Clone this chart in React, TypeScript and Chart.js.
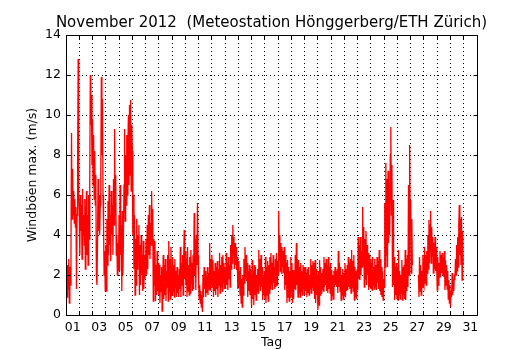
import React, { useEffect, useRef } from 'react';
import { Chart, registerables } from 'chart.js';

Chart.register(...registerables);

const chartTitle = 'November 2012  (Meteostation Hönggerberg/ETH Zürich)';
const yAxisTitle = 'Windböen max. (m/s)';
const xAxisTitle = 'Tag';
const dayTickLabels = ['01', '03', '05', '07', '09', '11', '13', '15', '17', '19', '21', '23', '25', '27', '29', '31'];
const yTickValues = [0, 2, 4, 6, 8, 10, 12, 14];
const samplesPerDay = 24;

// hourly wind gust maxima (m/s), one array per day
const nov01 = [0.7, 2.2, 0.9, 2.5, 1.3, 2.8, 0.6, 2.4, 1.5, 3.2, 9.1, 4.8, 7.3, 5.0, 6.2, 4.6, 5.8, 4.4, 5.4, 1.3, 5.0, 7.5, 12.8, 6.0];
const nov02 = [5.2, 3.0, 6.0, 4.2, 5.5, 2.8, 6.3, 4.0, 5.0, 3.5, 5.8, 2.3, 4.5, 6.2, 3.0, 5.0, 2.5, 6.0, 3.8, 6.5, 12.0, 9.5, 11.0, 7.5];
const nov03 = [9.8, 6.5, 9.0, 5.8, 8.2, 5.5, 7.0, 2.0, 1.5, 3.5, 6.8, 4.2, 6.0, 4.0, 5.5, 7.0, 11.9, 8.0, 10.8, 6.0, 4.5, 2.0, 3.2, 1.2];
const nov04 = [3.5, 1.2, 4.8, 2.5, 5.7, 3.0, 6.5, 3.5, 5.0, 2.7, 6.2, 4.0, 5.5, 3.0, 6.8, 4.5, 9.3, 5.0, 7.0, 3.0, 4.0, 2.0, 3.6, 2.2];
const nov05 = [5.0, 2.2, 6.5, 3.0, 4.5, 1.2, 5.2, 2.0, 4.0, 6.5, 9.3, 4.7, 8.0, 5.5, 9.0, 6.0, 8.5, 10.0, 6.5, 10.5, 7.0, 10.75, 6.2, 9.5];
const nov06 = [8.2, 4.0, 6.0, 2.3, 5.0, 1.0, 3.8, 1.5, 4.8, 2.3, 4.0, 2.8, 4.5, 1.0, 3.5, 1.5, 4.0, 2.0, 3.0, 1.2, 3.7, 1.3, 3.0, 1.8];
const nov07 = [2.5, 3.8, 2.0, 4.5, 2.3, 5.0, 3.0, 5.5, 2.8, 4.6, 3.5, 6.2, 4.0, 5.3, 0.7, 3.8, 1.5, 3.7, 0.7, 2.5, 1.0, 3.2, 1.2, 2.6];
const nov08 = [1.0, 2.5, 0.6, 2.0, 1.2, 2.4, 0.2, 1.5, 3.0, 0.8, 2.5, 1.0, 2.8, 0.7, 2.2, 1.4, 3.0, 0.7, 3.7, 1.2, 2.8, 0.8, 3.4, 1.5];
const nov09 = [1.0, 2.9, 1.2, 2.5, 0.9, 2.8, 1.4, 2.2, 0.9, 2.4, 1.1, 2.0, 0.9, 2.3, 1.3, 3.4, 0.9, 2.6, 1.5, 3.0, 1.0, 2.8, 4.25, 1.8];
const nov10 = [3.2, 1.5, 2.8, 0.9, 3.4, 1.2, 2.5, 1.0, 2.9, 1.1, 3.25, 1.6, 2.6, 1.2, 3.0, 1.3, 5.1, 2.0, 3.8, 1.25, 4.0, 2.5, 5.6, 3.0];
const nov11 = [1.75, 0.8, 1.5, 0.6, 1.2, 0.4, 1.0, 0.15, 2.0, 0.9, 2.4, 1.3, 2.2, 0.9, 2.0, 1.1, 2.4, 1.0, 2.1, 1.3, 3.6, 1.25, 2.8, 1.5];
const nov12 = [3.0, 1.4, 2.75, 0.9, 2.2, 1.2, 2.6, 1.0, 2.4, 1.3, 2.7, 0.9, 2.3, 1.5, 3.1, 1.1, 2.5, 1.4, 2.9, 1.2, 3.0, 1.6, 2.6, 1.3];
const nov13 = [2.4, 1.3, 3.1, 1.5, 2.6, 1.25, 2.9, 1.8, 2.5, 1.4, 3.5, 2.3, 4.0, 2.6, 4.5, 3.0, 3.9, 2.3, 3.6, 2.5, 3.4, 2.25, 2.9, 1.3];
const nov14 = [2.7, 1.4, 2.2, 1.0, 2.4, 0.6, 1.8, 0.4, 2.0, 1.0, 2.8, 1.6, 3.4, 1.8, 3.0, 1.7, 2.6, 0.9, 2.2, 1.2, 2.5, 1.0, 2.3, 1.1];
const nov15 = [0.4, 2.75, 0.8, 2.2, 0.5, 2.5, 1.0, 2.4, 0.75, 2.0, 1.2, 2.3, 1.1, 3.25, 1.5, 2.8, 1.2, 3.0, 1.4, 2.4, 0.75, 2.0, 1.0, 2.2];
const nov16 = [0.8, 2.9, 0.6, 2.4, 1.0, 2.7, 0.7, 2.5, 1.1, 2.9, 1.3, 3.1, 1.5, 2.6, 1.25, 3.0, 1.6, 2.4, 1.3, 2.8, 1.4, 3.1, 1.5, 2.7];
const nov17 = [2.0, 5.2, 2.8, 4.0, 2.2, 3.6, 2.1, 3.4, 2.4, 3.2, 2.1, 3.4, 1.25, 3.0, 1.5, 2.6, 0.6, 2.75, 0.9, 2.4, 0.7, 2.2, 0.9, 2.9];
const nov18 = [1.2, 2.6, 0.6, 2.25, 0.8, 2.0, 1.3, 3.0, 1.25, 3.6, 1.5, 2.8, 0.9, 2.75, 1.1, 2.4, 0.9, 2.6, 1.2, 2.2, 1.0, 2.5, 1.3, 2.4];
const nov19 = [1.0, 2.4, 1.2, 2.1, 0.9, 2.3, 1.1, 2.4, 1.0, 2.0, 1.3, 2.8, 1.1, 2.5, 1.4, 2.7, 1.2, 2.6, 0.8, 2.75, 0.6, 2.3, 1.0, 2.0];
const nov20 = [0.25, 2.2, 0.5, 2.75, 1.0, 2.4, 1.1, 2.1, 1.3, 2.3, 1.2, 2.9, 1.4, 2.6, 1.5, 2.8, 1.2, 2.5, 1.1, 2.9, 1.3, 2.4, 1.1, 2.6];
const nov21 = [0.75, 2.25, 1.0, 2.0, 0.8, 2.2, 1.4, 2.4, 1.5, 2.2, 1.4, 2.3, 1.1, 3.2, 1.4, 2.6, 1.2, 2.4, 0.75, 2.0, 1.0, 2.3, 0.8, 2.1];
const nov22 = [1.0, 2.6, 0.9, 2.3, 1.2, 2.5, 1.25, 2.9, 1.4, 2.6, 1.3, 2.8, 1.1, 3.25, 1.4, 2.7, 1.2, 3.0, 0.75, 2.4, 0.9, 2.2, 0.8, 2.3];
const nov23 = [1.25, 3.9, 1.8, 3.5, 1.75, 3.9, 2.0, 3.2, 2.4, 5.4, 2.5, 4.4, 1.4, 3.8, 1.8, 4.2, 1.5, 3.5, 2.0, 3.1, 1.25, 3.0, 1.4, 2.8];
const nov24 = [1.3, 2.6, 1.25, 2.9, 1.5, 2.4, 1.3, 2.8, 1.4, 2.5, 1.25, 2.9, 1.6, 2.7, 1.3, 3.25, 1.2, 2.8, 1.0, 2.4, 0.9, 2.2, 0.75, 1.8];
const nov25 = [1.4, 5.6, 2.4, 7.6, 3.0, 6.8, 2.4, 7.2, 3.6, 6.6, 4.0, 8.0, 9.4, 5.0, 7.5, 1.4, 5.75, 1.5, 2.9, 0.75, 2.4, 1.0, 2.6, 0.8];
const nov26 = [2.4, 0.75, 3.25, 1.0, 2.2, 0.8, 2.0, 1.1, 2.75, 0.75, 2.4, 1.0, 2.5, 0.8, 3.25, 0.75, 2.8, 1.2, 3.0, 1.4, 6.5, 2.0, 8.5, 4.5];
const nov27 = [5.75, 2.1, 4.8, 2.5, null, null, null, null, null, null, null, null, null, null, 2.0, 0.9, 2.9, 1.2, 2.5, 1.0, 2.2, 1.4, 3.0, 1.5];
const nov28 = [1.4, 3.4, 1.6, 3.0, 1.5, 3.2, 2.1, 4.0, 2.3, 4.75, 2.6, 4.5, 5.2, 2.6, 4.4, 3.0, 3.9, 2.1, 3.6, 2.3, 3.9, 2.2, 3.4, 2.5];
const nov29 = [1.25, 2.9, 1.5, 2.6, 1.9, 3.2, 1.9, 3.0, 2.1, 3.1, 2.0, 2.9, 1.9, 3.2, 1.25, 2.75, 1.5, 2.5, 1.3, 2.2, 0.8, 1.75, 0.6, 1.5];
const nov30 = [0.4, 1.2, 0.9, 2.1, 1.0, 1.8, 1.2, 2.0, 1.75, 2.8, 2.0, 3.5, 2.2, 3.9, 2.4, 4.5, 5.5, 3.0, 4.8, 2.5, 4.9, 1.75, 4.2, 2.5];

const novemberDays: (number | null)[][] = [
  nov01, nov02, nov03, nov04, nov05, nov06, nov07, nov08, nov09, nov10,
  nov11, nov12, nov13, nov14, nov15, nov16, nov17, nov18, nov19, nov20,
  nov21, nov22, nov23, nov24, nov25, nov26, nov27, nov28, nov29, nov30,
];

const FONT = '"DejaVu Sans", sans-serif';
const X_MAX = 31;

function buildPoints() {
  const pts: { x: number; y: number | null }[] = [];
  novemberDays.forEach((day, d) => {
    day.forEach((v, h) => pts.push({ x: d + h / samplesPerDay, y: v }));
  });
  return pts;
}

function buildXTicks() {
  const vals: number[] = [];
  for (let d = 0; d <= X_MAX; d++) {
    vals.push(d);
    if (d % 2 === 0 && d < X_MAX) vals.push(d + 0.5);
  }
  return vals;
}

const decorPlugin = {
  id: 'decor',
  afterDraw(chart: any) {
    const { ctx, chartArea } = chart;
    const { left, right, top, bottom } = chartArea;
    const xs = chart.scales.x;
    const ys = chart.scales.y;
    const a = (p: number) => Math.round(p - 0.5) + 0.5;
    ctx.save();
    ctx.setLineDash([]);
    ctx.strokeStyle = '#000';
    ctx.lineWidth = 1;
    const L = a(left), R = a(right), T = a(top), B = a(bottom);
    ctx.beginPath();
    ctx.rect(L, T, R - L, B - T);
    for (let d = 0; d <= X_MAX; d++) {
      const x = a(xs.getPixelForValue(d));
      ctx.moveTo(x, B); ctx.lineTo(x, B - 4);
      ctx.moveTo(x, T); ctx.lineTo(x, T + 4);
    }
    for (const v of yTickValues) {
      const y = a(ys.getPixelForValue(v));
      ctx.moveTo(L, y); ctx.lineTo(L + 4, y);
      ctx.moveTo(R, y); ctx.lineTo(R - 4, y);
    }
    ctx.stroke();

    ctx.fillStyle = '#000';
    ctx.textAlign = 'center';
    ctx.textBaseline = 'middle';
    const cx = (left + right) / 2;
    ctx.font = `15px ${FONT}`;
    ctx.fillText(chartTitle, cx, top - 12);
    ctx.font = `12.5px ${FONT}`;
    ctx.fillText(xAxisTitle, cx, bottom + 28);
    ctx.translate(left - 33, (top + bottom) / 2);
    ctx.rotate(-Math.PI / 2);
    ctx.fillText(yAxisTitle, 0, 0);
    ctx.restore();
  },
};

export default function App() {
  const canvasRef = useRef<HTMLCanvasElement | null>(null);

  useEffect(() => {
    document.body.style.margin = '0';
    const canvas = canvasRef.current;
    if (!canvas) return;
    const xTickVals = buildXTicks();
    const chart = new Chart(canvas, {
      type: 'line',
      data: {
        datasets: [
          {
            label: 'Windböen max.',
            data: buildPoints() as any,
            borderColor: '#ff0000',
            backgroundColor: '#ff0000',
            borderWidth: 1.3,
            pointRadius: 0,
            tension: 0,
            spanGaps: false,
          },
        ],
      },
      options: {
        responsive: false,
        animation: false,
        devicePixelRatio: 1,
        layout: { padding: { top: 35, right: 53, left: 0, bottom: 0 } },
        plugins: {
          legend: { display: false },
          title: { display: false },
          tooltip: { enabled: false },
        },
        scales: {
          x: {
            type: 'linear',
            min: 0,
            max: X_MAX,
            afterBuildTicks: (axis: any) => {
              axis.ticks = xTickVals.map((v) => ({ value: v }));
            },
            afterFit: (axis: any) => {
              axis.height = 35;
            },
            grid: {
              color: (c: any) => (c.tick && Number.isInteger(c.tick.value) ? '#000' : 'rgba(0,0,0,0)'),
              lineWidth: 1,
              drawTicks: false,
            },
            border: { display: false, dash: [1, 3] },
            ticks: {
              autoSkip: false,
              maxRotation: 0,
              minRotation: 0,
              padding: 5,
              color: '#000',
              font: { family: FONT, size: 12.5 },
              callback: (v: any) => {
                const n = Number(v);
                if (Number.isInteger(n)) return '';
                return dayTickLabels[Math.floor(n) / 2] ?? '';
              },
            },
          },
          y: {
            min: 0,
            max: 14,
            afterFit: (axis: any) => {
              axis.width = 66;
            },
            grid: { color: '#000', lineWidth: 1, drawTicks: false },
            border: { display: false, dash: [1, 3] },
            ticks: {
              stepSize: 2,
              padding: 5,
              color: '#000',
              font: { family: FONT, size: 12.5 },
            },
          },
        },
      },
      plugins: [decorPlugin],
    });
    return () => chart.destroy();
  }, []);

  return (
    <div style={{ width: 530, height: 350 }}>
      <canvas ref={canvasRef} width={530} height={350} style={{ display: 'block' }} />
    </div>
  );
}
